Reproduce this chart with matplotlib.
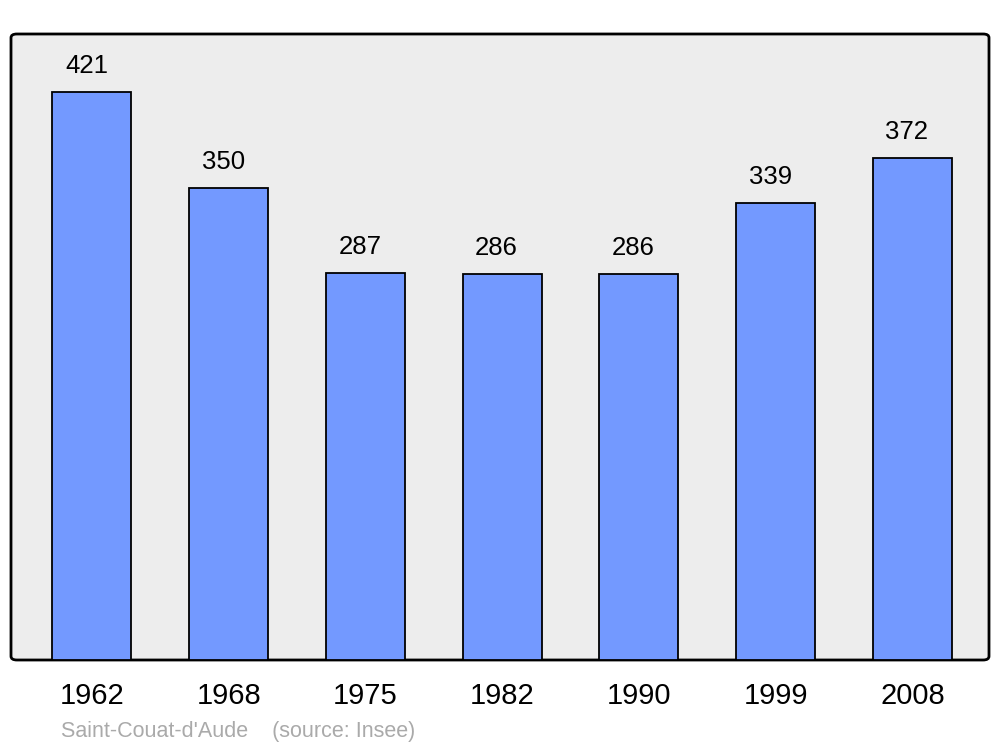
import matplotlib.pyplot as plt
import matplotlib.transforms as mtransforms
from matplotlib.patches import FancyBboxPatch

plt.rcParams['font.family'] = ['Liberation Sans', 'DejaVu Sans']

years = ['1962', '1968', '1975', '1982', '1990', '1999', '2008']
population = [421, 350, 287, 286, 286, 339, 372]
commune = "Saint-Couat-d'Aude"
source = '(source: Insee)'

fig = plt.figure(figsize=(10, 7.47), dpi=100)
ax = fig.add_axes([0.011, 1 - 660 / 747, 0.978, 626 / 747])
ax.set_xlim(-0.592, 6.56)
ax.set_ylim(0, 464)
for s in ax.spines.values():
    s.set_visible(False)
ax.set_facecolor('none')

# rounded background frame
bg = FancyBboxPatch((0, 0), 1, 1, boxstyle='round,pad=0,rounding_size=0.006',
                    transform=ax.transAxes, facecolor='#ededed',
                    edgecolor='black', linewidth=2, zorder=0, clip_on=False)
ax.add_patch(bg)

x = list(range(len(years)))
ax.bar(x, population, width=0.578, color='#7399ff', edgecolor='black',
       linewidth=1.3, zorder=2)

for xi, v in zip(x, population):
    ax.annotate(str(v), (xi, v), xytext=(-4, 13.5), textcoords='offset points',
                ha='center', va='baseline', fontsize=18.5, color='black')

ax.set_xticks(x)
ax.set_xticklabels(years, fontsize=21)
shift = mtransforms.ScaledTranslation(-2 / 100, 0, fig.dpi_scale_trans)
for lbl in ax.get_xticklabels():
    lbl.set_transform(lbl.get_transform() + shift)
ax.tick_params(axis='x', length=0, pad=16)
ax.set_yticks([])

fig.text(61 / 1000, 1 - 731 / 747, commune + '    ' + source, fontsize=15.5,
         color='#aaaaaa', ha='left', va='center')

fig.savefig('out.png', dpi=100)
